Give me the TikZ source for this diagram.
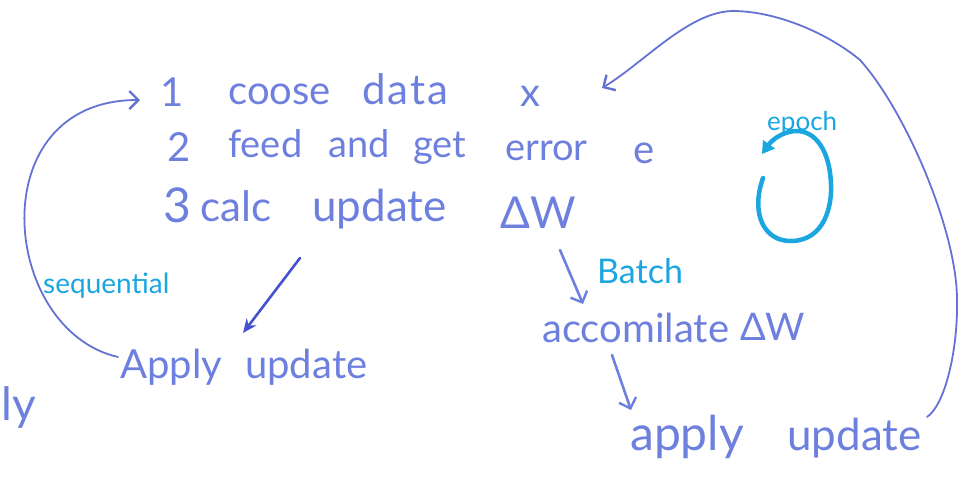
\documentclass[tikz,border=0pt]{standalone}
\usepackage{fontspec}
\setmainfont{Lato}
\usetikzlibrary{arrows.meta}
\definecolor{ink}{RGB}{110,128,222}
\definecolor{inkline}{RGB}{100,114,212}
\definecolor{cyanink}{RGB}{28,166,224}
\definecolor{darkink}{RGB}{70,82,205}
\newcommand{\fs}[1]{\fontsize{#1}{#1}\selectfont}
\begin{document}
\begin{tikzpicture}[x=1pt,y=-1pt,
  word/.style={inner sep=0,anchor=base west,text=ink},
  cword/.style={inner sep=0,anchor=base west,text=cyanink},
  link/.style={draw=inkline,line width=1.8pt,line cap=round},
  stroke/.style={draw=ink,line width=2.6pt,line cap=round,line join=round},
  barb/.style={-{Straight Barb[length=9pt,width=18pt,line width=2.4pt]}},
]
\useasboundingbox (0,0) rectangle (972,477);
% line 1
\node[word,font=\fs{40}] (n1) at (160,106) {1};
\node[word,font=\fs{40}] (coose) at (228,104) {coose};
\node[word,font=\fs{42}] (data) at (362,104) {d\kern2pt a\kern2pt t\kern2pt a};
\node[word,font=\fs{40}] (x) at (520,106) {x};
% line 2
\node[word,font=\fs{40}] (n2) at (167,161) {2};
\node[word,font=\fs{38}] (feed) at (228,157) {feed};
\node[word,font=\fs{38}] (and) at (328,157) {and};
\node[word,font=\fs{38}] (get) at (413,157) {get};
\node[word,font=\fs{38}] (error) at (505,160) {error};
\node[word,font=\fs{40}] (e) at (633,163) {e};
% line 3
\node[word,font=\fs{48}] (n3) at (163,222) {3};
\node[word,font=\fs{42}] (calc) at (200,221) {calc};
\node[word,font=\fs{44}] (update) at (312,221) {update};
\node[word,font=\fs{44}] (dw) at (500,228) {ΔW};
% labels
\node[cword,font=\fs{28}] (seq) at (43,293) {sequential};
\node[cword,font=\fs{34}] (batch) at (597,283) {Batch};
\node[cword,font=\fs{26}] (epoch) at (767,130) {epoch};
% apply (sequential)
\node[word,font=\fs{40}] (apply1) at (120,378) {Apply};
\node[word,font=\fs{40}] (upd1) at (245,378) {update};
\node[word,font=\fs{46}] (ly) at (1,420) {ly};
% batch
\node[word,font=\fs{40}] (accum) at (542,342) {accomilate};
\node[word,font=\fs{38}] (dw2) at (740,340) {ΔW};
\node[word,font=\fs{48}] (apply2) at (630,450) {apply};
\node[word,font=\fs{44}] (upd2) at (787,450) {update};
% coordinates
\coordinate (ls) at (118,357);
\coordinate (le) at (140,100);
\coordinate (as) at (300,258);
\coordinate (ae) at (243,333);
\coordinate (bs) at (560,250);
\coordinate (be) at (583,304);
\coordinate (cs) at (612,355);
\coordinate (ce) at (631,410);
\coordinate (gs) at (927,417);
\coordinate (g1) at (957,300);
\coordinate (g2) at (860,60);
\coordinate (g3) at (735,11);
\coordinate (ge) at (602,88);
\coordinate (es) at (763,178);
\coordinate (e1) at (792,241);
\coordinate (e2) at (831,185);
\coordinate (e3) at (795,131);
\coordinate (ee) at (762,154);
% sequential loop
\draw[link,barb] (ls) .. controls (0,330) and (-20,100) .. (le);
% to sequential apply
\draw[stroke,-{Stealth[length=14pt,width=12pt]},draw=darkink] (as) -- (ae);
% batch arrows
\draw[stroke,barb] (bs) -- (be);
\draw[stroke,barb] (cs) -- (ce);
% big return arc
\draw[link,barb] (gs) .. controls (945,405) and (958,350) .. (g1)
  .. controls (957,230) and (905,110) .. (g2)
  .. controls (830,35) and (780,12) .. (g3)
  .. controls (690,10) and (645,62) .. (ge);
% epoch loop
\draw[draw=cyanink,line width=4.5pt,line cap=round,-{Triangle[length=12pt,width=14pt]}]
  (es) .. controls (750,215) and (765,242) .. (e1)
  .. controls (825,240) and (832,205) .. (e2)
  .. controls (830,150) and (815,130) .. (e3)
  .. controls (782,132) and (772,140) .. (ee);
\end{tikzpicture}
\end{document}
